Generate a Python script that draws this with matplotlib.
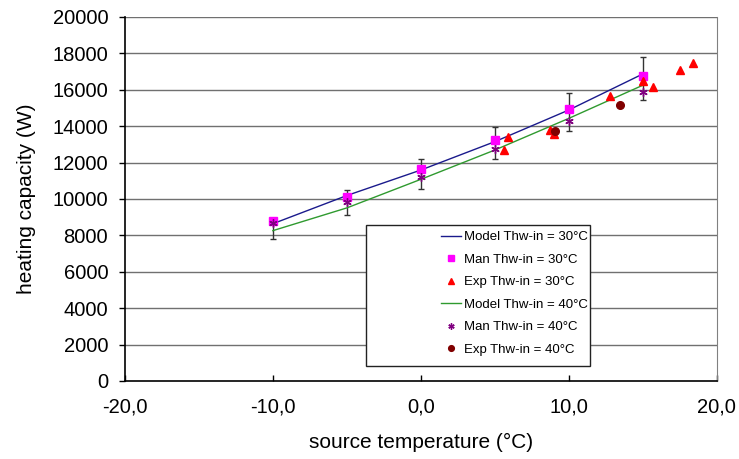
import numpy as np
import matplotlib
matplotlib.use("Agg")
import matplotlib.pyplot as plt
from matplotlib.ticker import FuncFormatter, MultipleLocator
from matplotlib.patches import Rectangle

plt.rcParams.update({
    "font.family": "sans-serif",
    "font.sans-serif": ["Liberation Sans", "DejaVu Sans"],
})

# ---- data ----
t_model = [-10, -5, 0, 5, 10, 15]
model_30 = [8640, 10190, 11590, 13150, 14890, 16870]
model_40 = [8260, 9510, 11080, 12690, 14430, 16250]

t_man = [-10, -5, 0, 5, 10, 15]
man_30 = [8790, 10090, 11630, 13230, 14930, 16780]
man_40 = [8700, 9850, 11190, 12730, 14270, 15900]
err_top = [8970, 10510, 12210, 13970, 15810, 17820]
err_bottom = [7800, 9140, 10550, 12180, 13750, 15440]

t_exp_30 = [5.6, 5.9, 8.7, 9.0, 12.8, 15.0, 15.7, 17.5, 18.4]
exp_30 = [12700, 13390, 13800, 13570, 15640, 16480, 16140, 17110, 17460]
t_exp_40 = [9.05, 13.45]
exp_40 = [13720, 15180]

labels = ["Model Thw-in = 30°C", "Man Thw-in = 30°C", "Exp Thw-in = 30°C",
          "Model Thw-in = 40°C", "Man Thw-in = 40°C", "Exp Thw-in = 40°C"]

# ---- figure ----
fig = plt.figure(figsize=(7.39, 4.59), dpi=100)
ax = fig.add_axes([0.169, 0.170, 0.801, 0.793])

ax.set_xlim(-20, 20)
ax.set_ylim(0, 20000)
ax.yaxis.set_major_locator(MultipleLocator(2000))
ax.xaxis.set_major_locator(MultipleLocator(10))
ax.xaxis.set_major_formatter(FuncFormatter(lambda v, p: f"{v:.1f}".replace(".", ",")))

for yv in np.arange(2000, 20001, 2000):
    ax.axhline(yv, color="#707070", lw=1.0, zorder=1)

lo = np.array(err_bottom)
hi = np.array(err_top)
ax.errorbar(t_man, (hi + lo) / 2, yerr=(hi - lo) / 2, fmt="none", ecolor="#333333",
            elinewidth=1.0, capsize=2.5, capthick=1.0, zorder=3)

h1, = ax.plot(t_model, model_30, color="#1a1a8c", lw=1.0, zorder=4)
h4, = ax.plot(t_model, model_40, color="#2f9a2f", lw=1.0, zorder=4)
h2, = ax.plot(t_man, man_30, ls="none", marker="s", ms=6, color="#ff00ff", zorder=5)
h5, = ax.plot(t_man, man_40, ls="none", marker=(6, 2, 0), ms=6, mew=1.0,
              color="#800080", zorder=6)
h3, = ax.plot(t_exp_30, exp_30, ls="none", marker="^", ms=5.5, color="#ff0000", zorder=5)
h6, = ax.plot(t_exp_40, exp_40, ls="none", marker="o", ms=5.5, color="#800000", zorder=5)

ax.spines["top"].set_visible(False)
ax.spines["right"].set_color("#808080")
ax.spines["left"].set_linewidth(1.2)
ax.spines["bottom"].set_linewidth(1.2)
ax.tick_params(axis="y", direction="out", length=4, width=1, labelsize=14.5, pad=8)
ax.tick_params(axis="x", direction="in", length=4, width=1, labelsize=14.5, pad=12)

ax.set_xlabel("source temperature (°C)", fontsize=15, labelpad=12)
ax.set_ylabel("heating capacity (W)", fontsize=15, labelpad=12)

# legend: frame drawn separately, entries pushed to the right side
ax.add_patch(Rectangle((0.407, 0.041), 0.378, 0.388, transform=ax.transAxes,
                       facecolor="white", edgecolor="#222222", lw=1.0, zorder=7))
leg = ax.legend([h1, h2, h3, h4, h5, h6], labels, loc="upper right",
                bbox_to_anchor=(0.797, 0.437), frameon=False, fontsize=9.5,
                handlelength=1.5, handletextpad=0.2, labelspacing=0.78,
                markerscale=0.75, borderpad=0.2)
leg.set_zorder(8)

fig.savefig("out.png", dpi=100)
